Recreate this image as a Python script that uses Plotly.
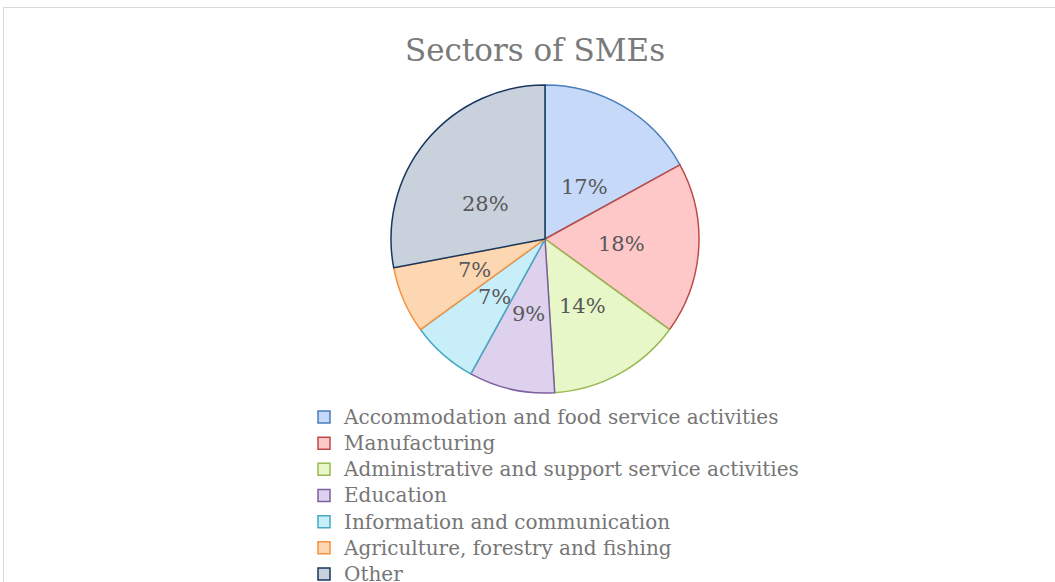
import math
import plotly.graph_objects as go

# ---- data ----
sectors = [
    "Accommodation and food service activities",
    "Manufacturing",
    "Administrative and support service activities",
    "Education",
    "Information and communication",
    "Agriculture, forestry and fishing",
    "Other",
]
shares = [17, 18, 14, 9, 7, 7, 28]
pct_labels = ["17%", "18%", "14%", "9%", "7%", "7%", "28%"]

# ---- styling ----
fill_colors = ["#c6d9f8", "#ffc8c8", "#e8f7c8", "#ddd1ed", "#c8eefa", "#fdd6b2", "#c9d1dd"]
line_colors = ["#4a7ebb", "#be4b48", "#98b954", "#7d60a0", "#46aac5", "#f69240", "#17375e"]

W, H = 1055, 582
CX, CY, R = 545, 239, 154
FONT = "DejaVu Serif"

# legend labels rendered slightly larger than the legend's line spacing font
legend_labels = ['<span style="font-size:20px">%s</span>' % s for s in sectors]

fig = go.Figure()
fig.add_trace(go.Pie(
    labels=legend_labels,
    values=shares,
    sort=False,
    direction="clockwise",
    rotation=0,
    textinfo="none",
    hoverinfo="skip",
    marker=dict(colors=fill_colors, line=dict(color=line_colors, width=1.5)),
    domain=dict(x=[(CX - R) / W, (CX + R) / W], y=[1 - (CY + R) / H, 1 - (CY - R) / H]),
))

# percentage labels at half radius in each slice's middle
total = sum(shares)
cum = 0.0
for v, lab in zip(shares, pct_labels):
    mid = (cum + v / 2) / total * 2 * math.pi
    cum += v
    px = CX + 0.5 * R * math.sin(mid)
    py = CY - 0.5 * R * math.cos(mid)
    fig.add_annotation(x=px / W, y=1 - py / H, xref="paper", yref="paper",
                       text=lab, showarrow=False,
                       font=dict(family=FONT, size=21, color="#595959"))

# chart border
fig.add_shape(type="rect", xref="paper", yref="paper",
              x0=3.5 / W, x1=1.05, y0=-0.05, y1=1 - 7.5 / H,
              line=dict(color="#d9d9d9", width=1), fillcolor="rgba(0,0,0,0)", layer="below")

fig.update_layout(
    width=W, height=H,
    margin=dict(l=0, r=0, t=0, b=0, autoexpand=False),
    paper_bgcolor="white",
    plot_bgcolor="white",
    title=dict(text="Sectors of SMEs", x=535 / W, xanchor="center", y=1 - 50 / H, yanchor="middle",
               font=dict(family=FONT, size=31, color="#7a7a7a")),
    showlegend=True,
    legend=dict(x=304 / W, xanchor="left", y=1 - 399 / H, yanchor="top",
                font=dict(family=FONT, size=17.8, color="#767676"),
                bgcolor="rgba(0,0,0,0)", itemclick=False),
)

fig.write_html("out.html", config={"displayModeBar": False},
               post_script="document.body.style.margin='0';")
